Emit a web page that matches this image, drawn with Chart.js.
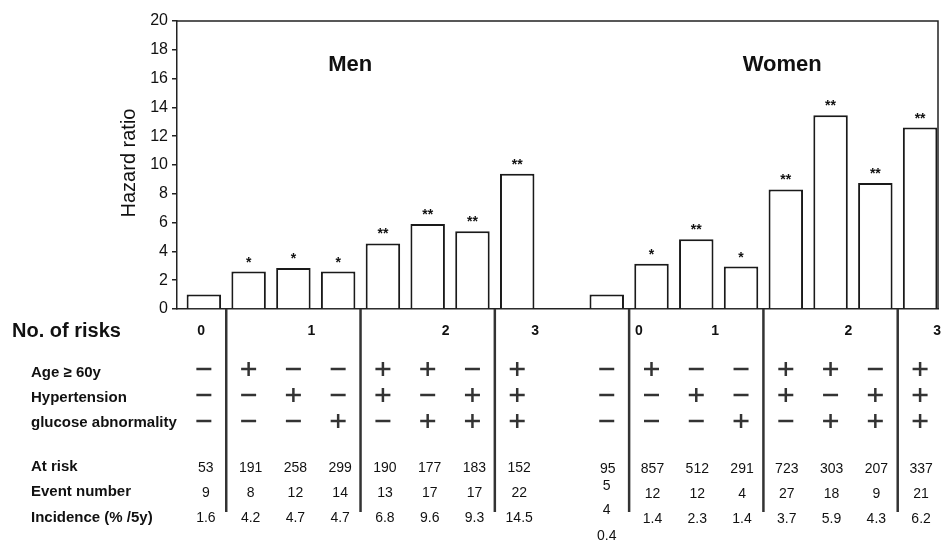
<!DOCTYPE html>
<html>
<head>
    <title>Hazard ratio by number of risks</title>
    <script src="https://cdn.jsdelivr.net/npm/chart.js"></script>
    <style>
        body { margin: 0; background: #fff; }
        .wrap { width: 942px; height: 540px; position: relative; }
    </style>
</head>
<body>
<div class="wrap"><canvas id="hrChart"></canvas></div>
<script>
// Hazard ratios
const menHR   = [1.0, 2.6, 2.85, 2.6, 4.55, 5.9, 5.4, 9.4];
const womenHR = [1.0, 3.15, 4.85, 2.95, 8.3, 13.45, 8.75, 12.6];
const menStars   = ['', '*', '*', '*', '**', '**', '**', '**'];
const womenStars = ['', '*', '**', '*', '**', '**', '**', '**'];
const yTicks = [0, 2, 4, 6, 8, 10, 12, 14, 16, 18, 20];

// risk pattern (same for both sexes)
const ageRow = ['-', '+', '-', '-', '+', '+', '-', '+'];
const hypRow = ['-', '-', '+', '-', '+', '-', '+', '+'];
const gluRow = ['-', '-', '-', '+', '-', '+', '+', '+'];

const menAtRisk = ['53', '191', '258', '299', '190', '177', '183', '152'];
const menEvents = ['9', '8', '12', '14', '13', '17', '17', '22'];
const menIncid  = ['1.6', '4.2', '4.7', '4.7', '6.8', '9.6', '9.3', '14.5'];
const womenAtRisk = ['95', '857', '512', '291', '723', '303', '207', '337'];
const womenEvents = ['', '12', '12', '4', '27', '18', '9', '21'];
const womenIncid  = ['', '1.4', '2.3', '1.4', '3.7', '5.9', '4.3', '6.2'];
const womenFirstColExtra = ['5', '4', '0.4']; // wrapped text under "95" in the source

const FONT = '"Liberation Sans", Arial, sans-serif';
const WOMEN_OFFSET = 9;

const tablePlugin = {
    id: 'tablePlugin',
    afterDraw(chart) {
        const ctx = chart.ctx;
        const xs = chart.scales.x;
        const area = chart.chartArea;
        const px = v => xs.getPixelForValue(v);
        ctx.save();

        // frame top + right
        ctx.strokeStyle = '#222';
        ctx.lineWidth = 1.5;
        ctx.beginPath();
        ctx.moveTo(area.left, area.top);
        ctx.lineTo(area.right, area.top);
        ctx.lineTo(area.right, area.bottom);
        ctx.stroke();

        // group separators running through the table
        ctx.strokeStyle = '#333';
        ctx.lineWidth = 2.5;
        [0.5, 3.5, 6.5, 9.5, 12.5, 15.5].forEach(v => {
            ctx.beginPath();
            ctx.moveTo(px(v), area.bottom);
            ctx.lineTo(px(v), 512);
            ctx.stroke();
        });

        ctx.fillStyle = '#111';
        // y axis title
        ctx.save();
        ctx.translate(129, 163);
        ctx.rotate(-Math.PI / 2);
        ctx.font = '20px ' + FONT;
        ctx.textAlign = 'center';
        ctx.textBaseline = 'middle';
        ctx.fillText('Hazard ratio', 0, 0);
        ctx.restore();

        // panel titles
        ctx.font = 'bold 22px ' + FONT;
        ctx.textAlign = 'center';
        ctx.textBaseline = 'middle';
        ctx.fillText('Men', px(3.27), 65);
        ctx.fillText('Women', px(12.92), 65);

        // significance stars
        ctx.font = 'bold 14px ' + FONT;
        ctx.textBaseline = 'alphabetic';
        const ys = chart.scales.y;
        menStars.forEach((s, i) => { if (s) ctx.fillText(s, px(i), ys.getPixelForValue(menHR[i]) - 5); });
        womenStars.forEach((s, i) => { if (s) ctx.fillText(s, px(i + WOMEN_OFFSET), ys.getPixelForValue(womenHR[i]) - 5); });

        // row labels
        ctx.textAlign = 'left';
        ctx.textBaseline = 'middle';
        ctx.font = 'bold 20px ' + FONT;
        ctx.fillText('No. of risks', 12, 331);
        ctx.font = 'bold 15px ' + FONT;
        ctx.fillText('Age \u2265 60y', 31, 373);
        ctx.fillText('Hypertension', 31, 398);
        ctx.fillText('glucose abnormality', 31, 423);
        ctx.fillText('At risk', 31, 467);
        ctx.fillText('Event number', 31, 492);
        ctx.fillText('Incidence (% /5y)', 31, 518);

        // number of risks group labels
        ctx.textAlign = 'center';
        ctx.font = 'bold 14px ' + FONT;
        [['0', -0.06], ['1', 2.4], ['2', 5.4], ['3', 7.4],
         ['0', 9.72], ['1', 11.42], ['2', 14.4], ['3', 16.38]].forEach(g => ctx.fillText(g[0], px(g[1]), 331));

        // plus / minus signs
        ctx.strokeStyle = '#333';
        ctx.lineWidth = 2.5;
        const sign = (s, x, y) => {
            ctx.beginPath();
            ctx.moveTo(x - 7.5, y); ctx.lineTo(x + 7.5, y);
            if (s === '+') { ctx.moveTo(x, y - 7); ctx.lineTo(x, y + 7); }
            ctx.stroke();
        };
        [[ageRow, 369], [hypRow, 395], [gluRow, 421]].forEach(r => {
            r[0].forEach((s, i) => {
                sign(s, px(i), r[1]);
                sign(s, px(i + WOMEN_OFFSET), r[1]);
            });
        });

        // counts
        ctx.font = '14px ' + FONT;
        ctx.fillStyle = '#111';
        [[menAtRisk, 468], [menEvents, 493], [menIncid, 518]].forEach(r => {
            r[0].forEach((t, i) => ctx.fillText(t, px(i) + 2, r[1]));
        });
        [[womenAtRisk, 469], [womenEvents, 494], [womenIncid, 519]].forEach(r => {
            r[0].forEach((t, i) => { if (t) ctx.fillText(t, px(i + WOMEN_OFFSET) + 1, r[1]); });
        });
        [486, 510, 536].forEach((y, k) => ctx.fillText(womenFirstColExtra[k], px(WOMEN_OFFSET), y));

        ctx.restore();
    }
};

const barStyle = {
    backgroundColor: '#fff',
    borderColor: '#1a1a1a',
    borderWidth: 2,
    categoryPercentage: 1.0,
    barPercentage: 0.77,
    grouped: false
};

new Chart(document.getElementById('hrChart'), {
    type: 'bar',
    data: {
        datasets: [
            Object.assign({ label: 'Men', data: menHR.map((v, i) => ({ x: i, y: v })) }, barStyle),
            Object.assign({ label: 'Women', data: womenHR.map((v, i) => ({ x: i + WOMEN_OFFSET, y: v })) }, barStyle)
        ]
    },
    options: {
        responsive: true,
        maintainAspectRatio: false,
        animation: false,
        layout: { padding: { top: 21, right: 4, left: 0, bottom: 0 } },
        plugins: { legend: { display: false }, tooltip: { enabled: false } },
        scales: {
            x: {
                type: 'linear',
                min: -0.6,
                max: 16.4,
                offset: false,
                ticks: { display: false },
                grid: { display: false },
                border: { display: true, color: '#222', width: 1.5 },
                afterFit(s) { s.height = 231; }
            },
            y: {
                min: 0,
                max: 20,
                afterBuildTicks(s) { s.ticks = yTicks.map(v => ({ value: v })); },
                ticks: { color: '#111', font: { family: FONT, size: 16 }, padding: 4 },
                grid: { drawOnChartArea: false, drawTicks: true, tickLength: 5, color: '#222', lineWidth: 1.5 },
                border: { display: true, color: '#222', width: 1.5 },
                afterFit(s) { s.width = 177; }
            }
        }
    },
    plugins: [tablePlugin]
});
</script>
</body>
</html>
